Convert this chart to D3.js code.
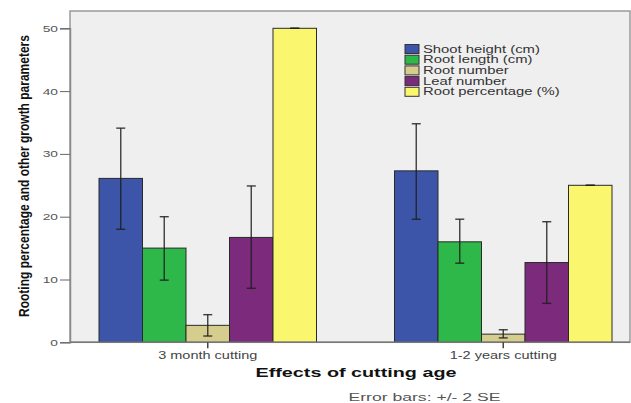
<!DOCTYPE html>
<html>
<head>
<meta charset="utf-8">
<script src="https://cdn.jsdelivr.net/npm/d3@7"></script>
<style>
  body { margin: 0; background: #fff; }
  svg { display: block; font-family: "Liberation Sans", Arial, sans-serif; }
</style>
</head>
<body>
<div id="chart-area"></div>
<script>
// data
const groups = ["3 month cutting", "1-2 years cutting"]
const series = ["Shoot height (cm)", "Root length (cm)", "Root number", "Leaf number", "Root percentage (%)"]
const colors = ["#3d55a8", "#2eb84a", "#d5cd8e", "#7c2a7c", "#faf76f"]
const yTicks = [0, 10, 20, 30, 40, 50]

// means per series, one value per group
const shootHeight = [26.1, 27.3]
const rootLength = [15.0, 16.0]
const rootNumber = [2.7, 1.3]
const leafNumber = [16.7, 12.7]
const rootPercent = [50, 25]

// error bars (+/- 2 SE), low / high
const errLow = [[18.0, 19.6], [9.9, 12.6], [1.0, 0.7], [8.6, 6.2], [50, 25]]
const errHigh = [[34.1, 34.8], [20.0, 19.6], [4.4, 2.0], [24.9, 19.2], [50, 25]]

const means = [shootHeight, rootLength, rootNumber, leafNumber, rootPercent]

const W = 631, H = 403
const PLOT = { LEFT: 70, RIGHT: 630, TOP: 11, BOTTOM: 342.3 }
const STRETCH = 1.45   // the picture is stretched sideways

const svg = d3.select("#chart-area").append("svg")
  .attr("width", W)
  .attr("height", H)

// widen text the way the reference is widened
function stretch(sel, k) {
  sel.each(function() {
    const len = this.getComputedTextLength()
    d3.select(this).attr("textLength", len * k).attr("lengthAdjust", "spacingAndGlyphs")
  })
}

// Scales
const y = d3.scaleLinear().domain([0, 50]).range([PLOT.BOTTOM, 28.3])
const x0 = d3.scaleBand().domain(groups).range([60, 651]).padding(0)
const GROUP_W = 217.5
const x1 = d3.scaleBand().domain(series).range([0, GROUP_W]).padding(0)
const color = d3.scaleOrdinal().domain(series).range(colors)
const groupStart = g => x0(g) + (x0.bandwidth() - GROUP_W) / 2

// plot background
svg.append("rect")
  .attr("x", PLOT.LEFT)
  .attr("y", PLOT.TOP)
  .attr("width", PLOT.RIGHT - PLOT.LEFT)
  .attr("height", PLOT.BOTTOM - PLOT.TOP)
  .attr("fill", "#efefef")
  .attr("stroke", "#9a9a9a")
  .attr("stroke-width", 1.5)

// bars
const rows = []
series.forEach((s, si) => {
  groups.forEach((g, gi) => {
    rows.push({ group: g, series: s, value: means[si][gi], lo: errLow[si][gi], hi: errHigh[si][gi] })
  })
})

svg.append("g").selectAll("rect")
  .data(rows)
  .enter().append("rect")
    .attr("x", d => groupStart(d.group) + x1(d.series))
    .attr("y", d => y(d.value))
    .attr("width", x1.bandwidth())
    .attr("height", d => y(0) - y(d.value))
    .attr("fill", d => color(d.series))
    .attr("stroke", "#2a2a2a")
    .attr("stroke-width", 1)

// error bars
const eb = svg.append("g")
  .attr("stroke", "#1e1e1e")
  .attr("stroke-width", 1.4)
  .attr("stroke-opacity", 0.85)
const cx = d => groupStart(d.group) + x1(d.series) + x1.bandwidth() / 2
eb.selectAll(".v").data(rows).enter().append("line")
  .attr("x1", cx).attr("x2", cx)
  .attr("y1", d => y(d.lo)).attr("y2", d => y(d.hi))
eb.selectAll(".top").data(rows).enter().append("line")
  .attr("x1", d => cx(d) - 4.5).attr("x2", d => cx(d) + 4.5)
  .attr("y1", d => y(d.hi)).attr("y2", d => y(d.hi))
eb.selectAll(".bot").data(rows).enter().append("line")
  .attr("x1", d => cx(d) - 4.5).attr("x2", d => cx(d) + 4.5)
  .attr("y1", d => y(d.lo)).attr("y2", d => y(d.lo))

// Y Axis
const yAxis = svg.append("g")
  .attr("transform", `translate(${PLOT.LEFT}, 0)`)
  .call(d3.axisLeft(y).tickValues(yTicks).tickSize(10).tickPadding(2))
yAxis.select(".domain").attr("stroke", "#8a8a8a").attr("stroke-width", 1.5)
yAxis.selectAll(".tick line").attr("stroke", "#666")
yAxis.selectAll(".tick text")
  .attr("font-size", "9.5px")
  .attr("fill", "#555")
  .attr("font-family", "Liberation Sans, Arial, sans-serif")
  .call(stretch, STRETCH)

// X Axis
const xAxis = svg.append("g")
  .attr("transform", `translate(0, ${PLOT.BOTTOM})`)
  .call(d3.axisBottom(x0).tickSize(6).tickSizeOuter(0).tickPadding(4))
xAxis.select(".domain").attr("d", `M${PLOT.LEFT},0H${PLOT.RIGHT}`).attr("stroke", "#777").attr("stroke-width", 1.5)
xAxis.selectAll(".tick line").attr("stroke", "#444").attr("stroke-width", 1.5)
xAxis.selectAll(".tick text")
  .attr("font-size", "10px")
  .attr("fill", "#444")
  .attr("font-family", "Liberation Sans, Arial, sans-serif")
  .call(stretch, STRETCH)

// Labels
svg.append("text")
  .attr("x", 356)
  .attr("y", 377)
  .attr("text-anchor", "middle")
  .attr("font-size", "13px")
  .attr("font-weight", "bold")
  .attr("fill", "#111")
  .text("Effects of cutting age")
  .call(stretch, 1.52)

// y label: squeezed along its length with a scale, so its box is honest
const yLabel = svg.append("text")
  .attr("text-anchor", "middle")
  .attr("font-size", "15px")
  .attr("font-weight", "bold")
  .attr("fill", "#111")
  .text("Rooting percentage and other growth parameters")
const yLabelK = 282 / yLabel.node().getComputedTextLength()
yLabel.attr("transform", `translate(29, 176) rotate(-90) scale(${yLabelK}, 1)`)

svg.append("text")
  .attr("x", 424.5)
  .attr("y", 401)
  .attr("text-anchor", "middle")
  .attr("font-size", "11px")
  .attr("fill", "#555")
  .text("Error bars: +/- 2 SE")
  .call(stretch, 1.6)

// Legend
const legend = svg.append("g")
  .attr("transform", "translate(405, 49)")

series.forEach((s, i) => {
  const row = legend.append("g")
    .attr("transform", `translate(0, ${i * 10.7})`)
  row.append("rect")
    .attr("x", 0)
    .attr("y", -4.5)
    .attr("width", 14)
    .attr("height", 9)
    .attr("fill", color(s))
    .attr("stroke", "#333")
    .attr("stroke-width", 1)
  row.append("text")
    .attr("x", 18)
    .attr("y", 3.6)
    .attr("font-size", "10px")
    .attr("fill", "#333")
    .text(s)
    .call(stretch, 1.48)
})
</script>
</body>
</html>
